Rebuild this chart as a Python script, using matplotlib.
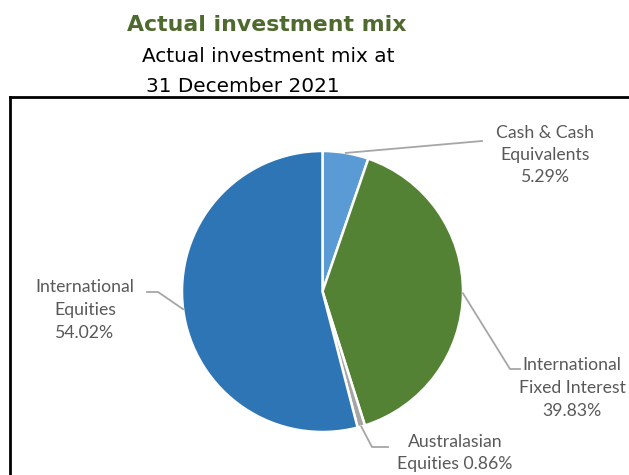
import matplotlib
matplotlib.use("Agg")
import matplotlib.pyplot as plt
import numpy as np

categories = ["Cash & Cash\nEquivalents", "International\nFixed Interest",
              "Australasian\nEquities", "International\nEquities"]
values = [5.29, 39.83, 0.86, 54.02]
colors = ["#5B9BD5", "#548235", "#A5A5A5", "#2E75B6"]

W, H = 629, 475
fig = plt.figure(figsize=(W / 100, H / 100), dpi=100)
ax = fig.add_axes([0, 0, 1, 1])
ax.set_xlim(0, W)
ax.set_ylim(0, H)
ax.set_aspect("equal")
ax.axis("off")

def Y(py):
    return H - py

# titles
ax.text(267, Y(25), "Actual investment mix", ha="center", va="center",
        fontsize=15.8, fontweight="bold", color="#4F6A2E", family="DejaVu Sans")
ax.text(268, Y(57), "Actual investment mix at", ha="center", va="center",
        fontsize=14.4, color="black", family="DejaVu Sans")
ax.text(243, Y(86), "31 December 2021", ha="center", va="center",
        fontsize=14.4, color="black", family="DejaVu Sans")

# border box
ax.plot([10, 10], [Y(480), Y(97)], color="black", lw=2, solid_capstyle="projecting")
ax.plot([10, W + 5], [Y(97), Y(97)], color="black", lw=2, solid_capstyle="projecting")

cx, cy, r = 322.5, Y(291.5), 140.5
wedges, _ = ax.pie(values, colors=colors, startangle=90, counterclock=False,
                   center=(cx, cy), radius=r, frame=True,
                   wedgeprops=dict(edgecolor="white", linewidth=1.8))
ax.set_xlim(0, W)
ax.set_ylim(0, H)
ax.axis("off")

# labels
label_pos = [(545, 155), (572, 388), (455, 453), (85, 310)]
texts = [f"{c}\n{v:.2f}%" for c, v in zip(categories, values)]
texts[2] = "Australasian\nEquities %.2f%%" % values[2]
elbows = [None, (510, 369), (372, 447), (158, 292)]
ends = [(482, 141), (520, 369), (388, 447), (147, 292)]
lc = "#A6A6A6"
for i, w in enumerate(wedges):
    mid = np.deg2rad((w.theta1 + w.theta2) / 2)
    sx, sy = cx + r * np.cos(mid), cy + r * np.sin(mid)
    pts = [(sx, sy)]
    if elbows[i] is not None:
        pts.append((elbows[i][0], Y(elbows[i][1])))
    pts.append((ends[i][0], Y(ends[i][1])))
    xs, ys = zip(*pts)
    ax.plot(xs, ys, color=lc, lw=1.3, zorder=1)
    ax.text(label_pos[i][0], Y(label_pos[i][1]), texts[i], ha="center", va="center",
            fontsize=12.7, color="#595959", family="Lato", linespacing=1.5)

fig.savefig("out.png", dpi=100)
